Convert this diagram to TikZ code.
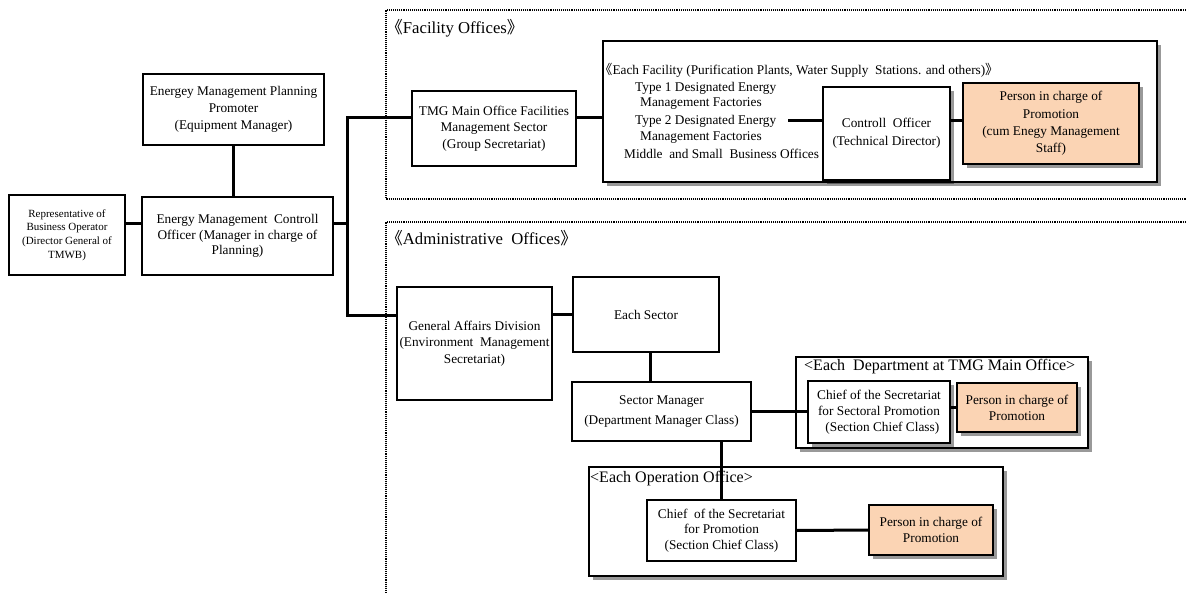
\documentclass[tikz,border=0pt]{standalone}
\usepackage{fontspec}
\setmainfont{Liberation Serif}
\newfontfamily\cjk{Noto Sans CJK SC}
\usetikzlibrary{shadows}
\definecolor{peach}{HTML}{FBD4B4}
\begin{document}
\begin{tikzpicture}[x=1pt,y=-1pt,
  box/.style={draw, line width=2pt, inner sep=0pt, outer sep=0pt, align=center, anchor=north west, font=\fontsize{13.3}{16.3}\selectfont},
  shad/.style={fill=white, drop shadow={shadow xshift=3.5pt, shadow yshift=-3.5pt, fill=black, opacity=0.4}},
  pers/.style={fill=peach, drop shadow={shadow xshift=3.5pt, shadow yshift=-3.5pt, fill=black, opacity=0.4}},
  conn/.style={line width=3pt},
  dotbox/.style={line width=1.1pt, dash pattern=on 1.1pt off 1pt},
  lbl/.style={inner sep=0pt, anchor=west, font=\fontsize{13.3}{16}\selectfont},
  biglbl/.style={inner sep=0pt, anchor=west, font=\fontsize{16.7}{20}\selectfont},
  midlbl/.style={inner sep=0pt, anchor=west, font=\fontsize{16}{19}\selectfont},
]
\useasboundingbox (0,0) rectangle (1186,592);

% dotted areas
\draw[dotbox] (1192,10) -- (386,10) -- (386,199) -- (1192,199);
\draw[dotbox] (1192,222) -- (386,222) -- (386,598);
\node[biglbl] (facl) at (386,28) {{\cjk 《}Facility Offices{\cjk 》}};
\node[biglbl] (adml) at (386,238) {{\cjk 《}Administrative\ \ Offices{\cjk 》}};

% left part
\node[box, minimum width=116pt, minimum height=80pt, font=\fontsize{11}{13.7}\selectfont] (rep) at (9,195)
  {Representative of\\Business Operator\\(Director General of\\TMWB)};
\node[box, minimum width=191pt, minimum height=78pt, font=\fontsize{13.3}{15.3}\selectfont] (emco) at (142,197)
  {Energy Management\ \ Controll\\Officer (Manager in charge of\\Planning)};
\node[box, minimum width=181pt, minimum height=71pt, font=\fontsize{13.3}{16.7}\selectfont] (pp) at (143,74)
  {Energey Management Planning\\Promoter\\(Equipment Manager)};

% facility offices
\node[box, minimum width=164pt, minimum height=75pt, font=\fontsize{13.3}{16.7}\selectfont] (tmg) at (412,91)
  {TMG Main Office Facilities\\Management Sector\\(Group Secretariat)};
\node[box, shad, minimum width=554pt, minimum height=141pt] (ef) at (603,41) {};
\node[lbl] (efh) at (599,70) {{\cjk 《}Each Facility (Purification Plants, Water Supply\ \ Stations. and others){\cjk 》}};
\node[lbl] (t1a) at (635,88) {Type 1 Designated Energy};
\node[lbl] (t1b) at (640,104) {Management Factories};
\node[lbl] (t2a) at (635,121) {Type 2 Designated Energy};
\node[lbl] (t2b) at (640,138) {Management Factories};
\node[lbl] (msb) at (624,154) {Middle\ \ and Small\ \ Business Offices};
\coordinate (t2end) at (788,120);
\node[box, shad, minimum width=127pt, minimum height=93pt, font=\fontsize{13.3}{18}\selectfont] (co) at (823,87)
  {Controll\ \ Officer\\(Technical Director)};
\node[box, pers, minimum width=176pt, minimum height=81pt, font=\fontsize{13.3}{17.2}\selectfont] (p1) at (963,83)
  {Person in charge of\\Promotion\\(cum Enegy Management\\Staff)};

% administrative offices
\node[box, minimum width=155pt, minimum height=113pt] (ga) at (397,287)
  {General Affairs Division\\(Environment\ \ Management\\Secretariat)};
\node[box, minimum width=146pt, minimum height=75pt] (es) at (573,277) {Each Sector};
\node[box, minimum width=179pt, minimum height=59pt, font=\fontsize{13.3}{19.3}\selectfont] (sm) at (572,382)
  {Sector Manager\\(Department Manager Class)};

\node[box, shad, minimum width=292pt, minimum height=91pt] (ed) at (796,357) {};
\node[midlbl] (edl) at (804,367) {<Each\ \ Department at TMG Main Office>};
\node[box, shad, minimum width=142pt, minimum height=62pt, font=\fontsize{13.3}{16}\selectfont] (cs) at (808,381)
  {Chief of the Secretariat\\for Sectoral Promotion\\\ \ (Section Chief Class)};
\node[box, pers, minimum width=120pt, minimum height=49pt, font=\fontsize{13.3}{16}\selectfont] (ps) at (957,383)
  {Person in charge of\\Promotion};

\node[box, shad, minimum width=414pt, minimum height=109pt] (eo) at (589,467) {};
\node[midlbl] (eol) at (590,479) {<Each Operation Office>};
\node[box, fill=white, minimum width=149pt, minimum height=61pt, font=\fontsize{13.3}{15.7}\selectfont] (cp) at (647,500)
  {Chief\ \ of the Secretariat\\for Promotion\\(Section Chief Class)};
\node[box, pers, minimum width=124pt, minimum height=50pt, font=\fontsize{13.3}{16}\selectfont] (p2) at (869,505)
  {Person in charge of\\Promotion};

% connectors
\coordinate (bus) at (347,223);
\coordinate (busT) at (347,117);
\coordinate (busB) at (347,315);
\draw[conn] ([yshift=12pt]rep.east) -- ([yshift=13pt]emco.west);
\draw[conn] (pp.south) -- (pp.south |- emco.north);
\draw[conn] ([yshift=13pt]emco.east) -- (bus);
\draw[conn] (busT -| tmg.west) -- (busT) -- (busB) -- (busB -| ga.west);
\draw[conn] (busT -| tmg.east) -- (busT -| ef.west);
\draw[conn] (t2end) -- (t2end -| co.west);
\draw[conn] (t2end -| co.east) -- (t2end -| p1.west);
\draw[conn] (es.west -| ga.east) -- (es.west);
\draw[conn] ([xshift=4pt]es.south) -- ([xshift=4pt]es.south |- sm.north);
\draw[conn] (sm.east) -- (sm.east -| cs.west);
\draw[conn] (ps.west -| cs.east) -- (ps.west);
\draw[conn] (cp.north |- sm.south) -- (cp.north);
\draw[conn] (cp.east) -- (p2.west);
\end{tikzpicture}
\end{document}
